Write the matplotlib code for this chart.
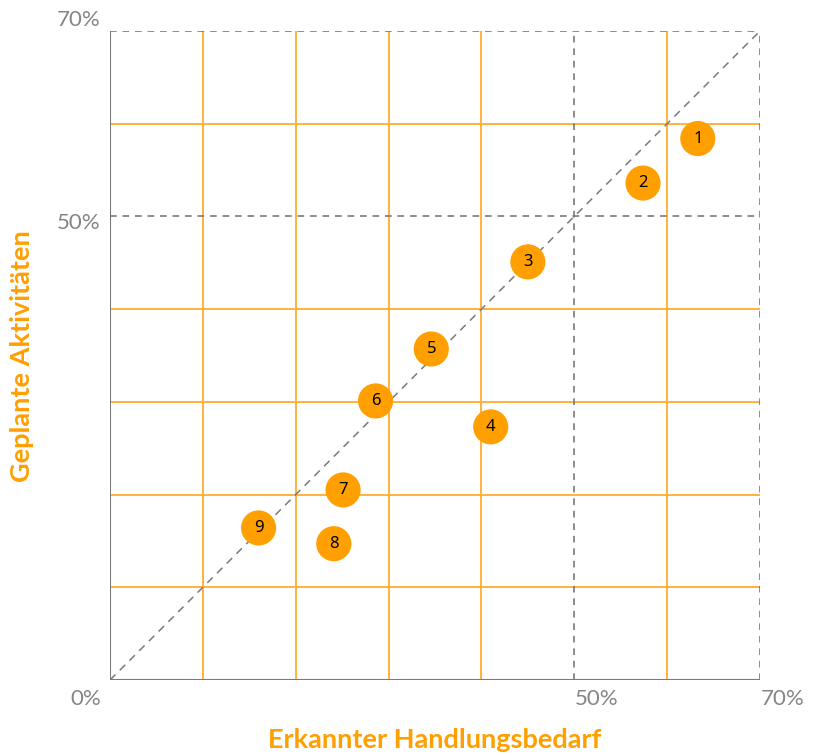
import matplotlib
matplotlib.use("Agg")
import matplotlib.pyplot as plt

labels = ["1", "2", "3", "4", "5", "6", "7", "8", "9"]
erkannt = [63.3, 57.4, 45.0, 41.0, 34.6, 28.6, 25.1, 24.1, 16.0]
geplant = [58.4, 53.6, 45.1, 27.3, 35.7, 30.1, 20.5, 14.7, 16.4]
solid_grid = [10, 20, 30, 40, 60]
dashed_grid = [50, 70]
x_ticks = [0, 50, 70]
x_tick_labels = ["0%", "50%", "70%"]
y_ticks = [50, 70]
y_tick_labels = ["50%", "70%"]

ORANGE = "#FF9F00"
GRID_OR = "#FFB23C"
GRAY = "#7a7a7a"
TICK_GRAY = "#858585"
FONT = ["Lato", "DejaVu Sans"]

fig = plt.figure(figsize=(8.15, 7.55), dpi=100)
ax = fig.add_axes([110/815, 75/755, 650/815, 649/755])
ax.set_xlim(0, 70)
ax.set_ylim(0, 70)
for s in ax.spines.values():
    s.set_visible(False)
ax.set_xticks([])
ax.set_yticks([])

for v in solid_grid:
    ax.axvline(v, color=GRID_OR, lw=1.4, zorder=1)
    ax.axhline(v, color=GRID_OR, lw=1.4, zorder=1)
for v in dashed_grid:
    ax.axvline(v, color=GRAY, lw=1.2, ls=(0, (4, 3.5)), zorder=2)
    ax.axhline(v, color=GRAY, lw=1.2, ls=(0, (4, 3.5)), zorder=2)
ax.plot([0, 70], [0, 70], color=GRAY, lw=1.1, ls=(0, (5, 4)), zorder=2)
ax.axvline(0, color=GRAY, lw=1.5, zorder=3)
ax.axhline(0, color=GRAY, lw=1.5, zorder=3)

ax.scatter(erkannt, geplant, s=640, color=ORANGE, edgecolors="none", zorder=4, clip_on=False)
for lab, x, y in zip(labels, erkannt, geplant):
    ax.text(x, y, lab, ha="center", va="center", fontsize=12, color="black",
            family=["Noto Sans", "DejaVu Sans"], zorder=5)

TICK_FS = 16
for t, l in zip(x_ticks, x_tick_labels):
    if t == 0:
        ax.text(-1.0, -1.0, l, ha="right", va="top", fontsize=TICK_FS, color=TICK_GRAY,
                family=FONT)
    else:
        ax.text(t + 0.1, -1.0, l, ha="left", va="top", fontsize=TICK_FS, color=TICK_GRAY,
                family=FONT)
for t, l in zip(y_ticks, y_tick_labels):
    ax.text(-1.0, t + 0.1 if t == 70 else t - 1.8, l, ha="right", va="bottom", fontsize=TICK_FS,
            color=TICK_GRAY, family=FONT)

fig.text(435/815, 1 - 740/755, "Erkannter Handlungsbedarf", ha="center", va="center",
         fontsize=19.5, color=ORANGE, fontweight="bold", family=FONT)
fig.text(22/815, 1 - 356/755, "Geplante Aktivitäten", ha="center", va="center",
         rotation=90, fontsize=19.5, color=ORANGE, fontweight="bold", family=FONT)

fig.savefig("out.png", dpi=100)
